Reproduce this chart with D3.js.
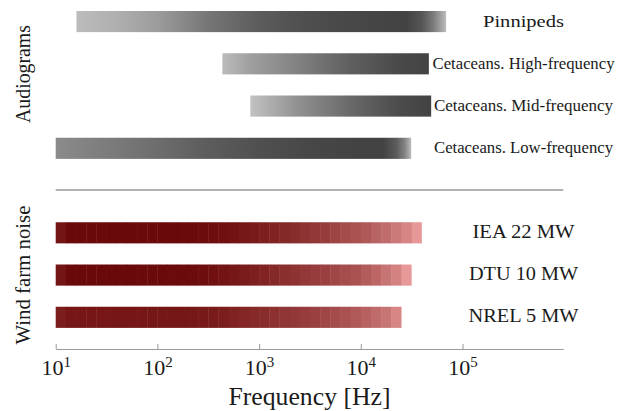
<!DOCTYPE html>
<html>
<head>
<meta charset="utf-8">
<script src="https://cdn.jsdelivr.net/npm/d3@7"></script>
<style>
  html, body { margin: 0; padding: 0; background: #fff; }
  svg { display: block; }
</style>
</head>
<body>
<svg id="chart" width="628" height="411"></svg>
<script>
// ---- Audiograms: hearing range with threshold (dB re 1 µPa) at sample frequencies (Hz)
const audiogramNames = ["Pinnipeds", "Cetaceans. High-frequency", "Cetaceans. Mid-frequency", "Cetaceans. Low-frequency"];
const pinnipedsFreq = [16, 40, 100, 316, 1000, 2500, 6000, 16000, 28000, 40000, 52000, 69000];
const pinnipedsThr  = [117, 111, 102, 84, 72, 66, 63, 61, 60, 69, 87, 117];
const highFreqFreq  = [435, 800, 2500, 7900, 24400, 46700];
const highFreqThr   = [117, 104, 89, 73, 63, 60];
const midFreqFreq   = [820, 2500, 7900, 24400, 49200];
const midFreqThr    = [120, 96, 78, 64, 60];
const lowFreqFreq   = [10, 32, 100, 316, 1000, 3160, 10000, 16600, 22400, 27000, 31300];
const lowFreqThr    = [94, 87, 80, 72, 66, 62, 60, 60, 72, 90, 117];

// ---- Wind farm noise: one-third-octave band levels (dB), bands start at 10 Hz, 0.1 decade wide
const turbineNames = ["IEA 22 MW", "DTU 10 MW", "NREL 5 MW"];
const iea22Levels = [135.2, 139.8, 140, 140, 140, 139.9, 140, 140, 139.8, 140, 139.9, 139.8, 139.7,
  139.4, 138.8, 138.2, 137.6, 136.4,
  134.0, 132.8, 131.0, 129.2, 127.4, 125.6, 123.2, 120.8, 119.0, 116.0, 113.0, 110.0, 107.0, 102.8, 99.2, 94.4, 89.6, 81.8];
const dtu10Levels = [135.2, 139.8, 140, 140, 140, 139.9, 139.8, 139.8, 139.6, 139.5, 139.4, 139.3, 139.2,
  138.8, 138.2, 137.0, 135.8, 134.0, 132.8, 131.0, 129.2, 127.4, 125.0, 123.2, 120.8, 119.0, 117.2, 114.8, 112.4, 110.0, 105.8, 101.6, 96.2, 90.8, 81.2];
const nrel5Levels = [131.6, 134.6, 134.6, 134.6, 134.6, 134.5, 134.6, 134.6, 134.5, 134.4, 134.4, 134.3, 134.2,
  134.0, 133.4, 132.8, 131.6, 129.8, 128.0, 126.8, 125.6, 123.8, 122.0, 120.8, 119.0, 117.2, 114.8, 113.0, 110.0, 107.0, 104.0, 99.8, 96.2, 89.0];

const freqTicks = [1e1, 1e2, 1e3, 1e4, 1e5];
const bandStartHz = 10;
const bandWidthDecades = 0.1;

const FONT = "Liberation Serif";
const INK = "#1a1a1a";

const audiograms = [
  { name: audiogramNames[0], freq: pinnipedsFreq, thr: pinnipedsThr },
  { name: audiogramNames[1], freq: highFreqFreq, thr: highFreqThr },
  { name: audiogramNames[2], freq: midFreqFreq, thr: midFreqThr },
  { name: audiogramNames[3], freq: lowFreqFreq, thr: lowFreqThr }
];
const turbines = [
  { name: turbineNames[0], levels: iea22Levels },
  { name: turbineNames[1], levels: dtu10Levels },
  { name: turbineNames[2], levels: nrel5Levels }
];

const svg = d3.select("#chart");

const x = d3.scaleLog().domain([10, 9.8e5]).range([55.7, 563.3]);
const SEP = "__sep__";
const y = d3.scaleBand()
  .domain([...audiogramNames, SEP, ...turbineNames])
  .range([0.44, 338.44])
  .paddingInner(0.5)
  .paddingOuter(0.25);

const grayScale = d3.scaleLinear().domain([60, 120]).range(["#434343", "#c2c2c2"]).clamp(true);
const redScale = d3.scaleLinear().domain([80, 140]).range(["#ea9b9b", "#6a0909"]).clamp(true);

const defs = svg.append("defs");

// Audiogram bars: gradient along log-frequency
audiograms.forEach((a, i) => {
  const x1 = x(a.freq[0]), x2 = x(a.freq[a.freq.length - 1]);
  const grad = defs.append("linearGradient")
    .attr("id", "aud" + i)
    .attr("gradientUnits", "userSpaceOnUse")
    .attr("x1", x1).attr("x2", x2).attr("y1", 0).attr("y2", 0);
  grad.selectAll("stop").data(a.freq).join("stop")
    .attr("offset", (f) => (x(f) - x1) / (x2 - x1))
    .attr("stop-color", (f, j) => grayScale(a.thr[j]));
});

svg.append("g").selectAll("rect").data(audiograms).join("rect")
  .attr("x", d => x(d.freq[0]))
  .attr("width", d => x(d.freq[d.freq.length - 1]) - x(d.freq[0]))
  .attr("y", d => y(d.name))
  .attr("height", y.bandwidth())
  .attr("fill", (d, i) => `url(#aud${i})`);

// Wind farm noise bars: one rect per band
turbines.forEach(t => {
  const bands = t.levels.map((L, k) => ({
    f0: bandStartHz * Math.pow(10, k * bandWidthDecades),
    f1: bandStartHz * Math.pow(10, (k + 1) * bandWidthDecades),
    L
  }));
  svg.append("g").selectAll("rect").data(bands).join("rect")
    .attr("x", d => x(d.f0))
    .attr("width", (d, k) => x(d.f1) - x(d.f0) + (k < bands.length - 1 ? 0.4 : 0))
    .attr("y", y(t.name))
    .attr("height", y.bandwidth())
    .attr("fill", d => redScale(d.L));
});

// Row labels (font size, rendered width)
const labelStyle = {
  "Pinnipeds": [17.5, 81],
  "Cetaceans. High-frequency": [16, 182],
  "Cetaceans. Mid-frequency": [16, 179],
  "Cetaceans. Low-frequency": [16, 179],
  "IEA 22 MW": [18.5, 102],
  "DTU 10 MW": [18.5, 109],
  "NREL 5 MW": [18.5, 110]
};
svg.append("g").selectAll("text").data([...audiogramNames, ...turbineNames]).join("text")
  .attr("x", 523.5)
  .attr("y", d => y(d) + y.bandwidth() / 2 + 5)
  .attr("text-anchor", "middle")
  .attr("font-family", FONT)
  .attr("font-size", d => labelStyle[d][0])
  .attr("textLength", d => labelStyle[d][1])
  .attr("lengthAdjust", "spacingAndGlyphs")
  .attr("fill", INK)
  .text(d => d);

// Separator between the two groups
const sepY = y(SEP) + y.bandwidth() / 2 - 0.5;
svg.append("line")
  .attr("x1", x.range()[0]).attr("x2", x.range()[1])
  .attr("y1", sepY).attr("y2", sepY)
  .attr("stroke", "#9a9a9a").attr("stroke-width", 1.6);

// Frequency axis
const axisY = 349;
const axis = d3.axisBottom(x).tickValues(freqTicks).tickSizeInner(-5).tickSizeOuter(0);
const gx = svg.append("g").attr("transform", `translate(0,${axisY})`).call(axis);
gx.select(".domain").attr("stroke", "#9a9a9a").attr("stroke-width", 1.2);
gx.selectAll(".tick line").attr("stroke", "#9a9a9a");
gx.selectAll(".tick text").each(function (d) {
  const t = d3.select(this);
  t.text(null).attr("y", 26).attr("dy", null)
    .attr("fill", INK)
    .attr("font-family", FONT)
    .attr("font-size", 22);
  t.append("tspan").text("10");
  t.append("tspan").attr("dy", -8).attr("font-size", 15).text(Math.round(Math.log10(d)));
});

svg.append("text")
  .attr("x", (x.range()[0] + x.range()[1]) / 2)
  .attr("y", 405)
  .attr("text-anchor", "middle")
  .attr("font-family", FONT)
  .attr("font-size", 26)
  .attr("textLength", 162)
  .attr("lengthAdjust", "spacingAndGlyphs")
  .attr("fill", INK)
  .text("Frequency [Hz]");

// Group titles on the left
const groups = [
  { label: "Audiograms", cy: 74, len: 98 },
  { label: "Wind farm noise", cy: y(turbineNames[1]) + y.bandwidth() / 2, len: 139 }
];
svg.append("g").selectAll("text").data(groups).join("text")
  .attr("transform", d => `translate(30,${d.cy}) rotate(-90)`)
  .attr("text-anchor", "middle")
  .attr("font-family", FONT)
  .attr("font-size", 20)
  .attr("textLength", d => d.len)
  .attr("lengthAdjust", "spacingAndGlyphs")
  .attr("fill", INK)
  .text(d => d.label);
</script>
</body>
</html>
